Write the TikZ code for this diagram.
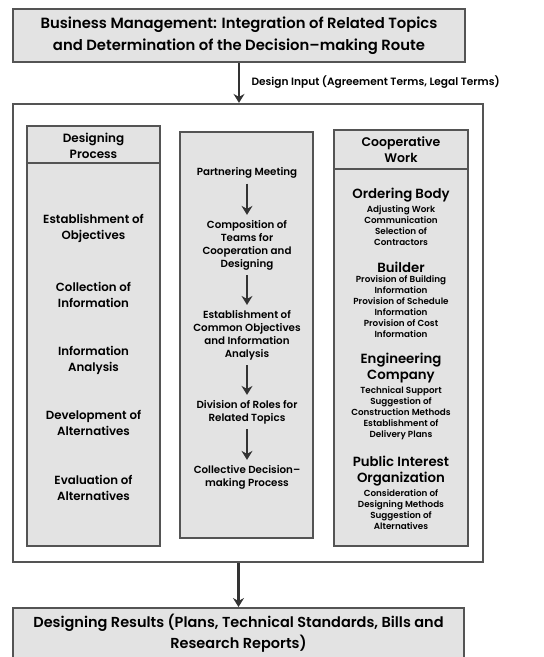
\documentclass[tikz,border=0pt]{standalone}
\usepackage{fontspec}
\setmainfont{Poppins}[UprightFont=* SemiBold]
\usetikzlibrary{positioning,arrows.meta}

\definecolor{boxgray}{gray}{0.89}
\definecolor{linegray}{gray}{0.33}

\tikzset{
  frame/.style={draw=linegray, line width=2.2pt},
  panel/.style={frame, fill=boxgray},
  txt/.style={align=center, inner sep=0pt},
  flow/.style={draw=black!80, line width=2.2pt, -{Stealth[length=9pt,width=11pt,inset=3pt]}},
}

\begin{document}
\begin{tikzpicture}[x=1pt,y=-1pt]
\useasboundingbox (0,0) rectangle (544,657);
\clip (0,0) rectangle (544,657);

% top box
\node[panel, txt, minimum width=452pt, minimum height=53pt, font=\fontsize{14.8}{22}\selectfont] (route) at (239,35.5)
  {Business Management: Integration of Related Topics\\and Determination of the Decision--making Route};

% outer frame
\node[frame, inner sep=0pt, minimum width=470pt, minimum height=458pt] (core) at (248,333) {};

\draw[flow] (route.south) -- (route.south |- core.north);
\node[anchor=west, font=\fontsize{10.6}{12}\selectfont] (input) at (248,82)
  {Design Input (Agreement Terms, Legal Terms)};

% left panel
\node[panel, inner sep=0pt, minimum width=133pt, minimum height=420pt] (process) at (93.5,336) {};
\draw[frame] (process.west |- 0,163) -- (process.east |- 0,163);
\node[txt, font=\fontsize{12}{16}\selectfont] (processhead) at (93.5,146) {Designing\\Process};
\foreach \y/\item [count=\n] in {228/{Establishment of\\Objectives}, 295/{Collection of\\Information},
    360/{Information\\Analysis}, 423/{Development of\\Alternatives}, 488/{Evaluation of\\Alternatives}} {
  \node[txt, font=\fontsize{11.8}{16}\selectfont] (p\n) at (93.5,\y) {\item};
}

% middle panel
\node[panel, inner sep=0pt, minimum width=133pt, minimum height=406pt] (meeting) at (246.5,335) {};
\foreach \y/\item [count=\n] in {173/{Partnering Meeting}, 245/{Composition of\\Teams for\\Cooperation and\\Designing},
    335/{Establishment of\\Common Objectives\\and Information\\Analysis}, 412/{Division of Roles for\\Related Topics},
    477/{Collective Decision--\\making Process}} {
  \node[txt, inner sep=4pt, font=\fontsize{10.3}{13}\selectfont] (m\n) at (247,\y) {\item};
}
\foreach \a/\b in {m1/m2, m2/m3, m3/m4, m4/m5} {
  \draw[flow, shorten <=1pt, shorten >=1pt] (\a) -- (\b);
}

% right panel
\node[panel, inner sep=0pt, minimum width=134pt, minimum height=416pt] (coop) at (401,338) {};
\draw[frame] (coop.west |- 0,169) -- (coop.east |- 0,169);
\node[txt, font=\fontsize{12.5}{16}\selectfont] (coophead) at (401,150) {Cooperative\\Work};

\tikzset{role/.style={txt, font=\fontsize{13.3}{16}\selectfont},
         duty/.style={txt, font=\fontsize{8.8}{11}\selectfont, below=3pt of #1}}
\node[role] (ordering) at (401,195) {Ordering Body};
\node[duty=ordering] (orderingtasks) {Adjusting Work\\Communication\\Selection of\\Contractors};
\node[role] (builder) at (401,267) {Builder};
\node[duty=builder] (buildertasks) {Provision of Building\\Information\\Provision of Schedule\\Information\\Provision of Cost\\Information};
\node[role] (engineering) at (401,368) {Engineering\\Company};
\node[duty=engineering] (engineeringtasks) {Technical Support\\Suggestion of\\Construction Methods\\Establishment of\\Delivery Plans};
\node[role] (public) at (401,471) {Public Interest\\Organization};
\node[duty=public] (publictasks) {Consideration of\\Designing Methods\\Suggestion of\\Alternatives};

% bottom box
\node[panel, txt, anchor=north, minimum width=451pt, minimum height=51pt, font=\fontsize{14.5}{21}\selectfont] (results) at (238.5,607)
  {Designing Results (Plans, Technical Standards, Bills and\\Research Reports)};
\draw[flow] (core.south -| results.north) -- (results.north);

\end{tikzpicture}
\end{document}
